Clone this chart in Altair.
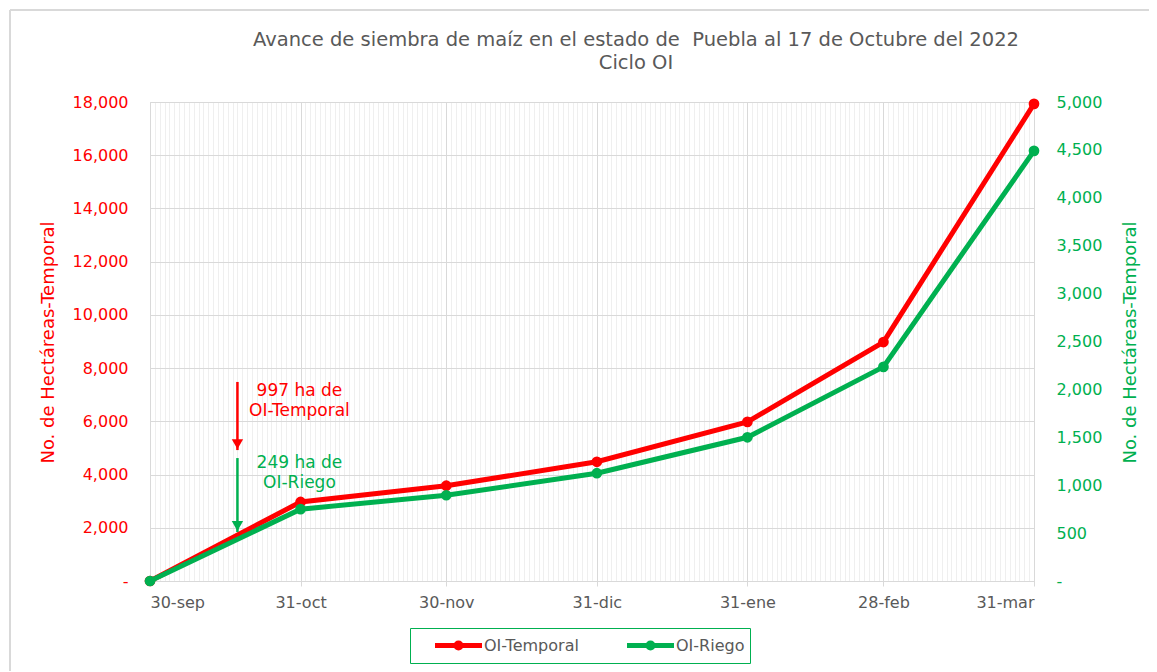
import altair as alt
import pandas as pd

# ---- data ----
dates = ["2022-09-30", "2022-10-31", "2022-11-30", "2022-12-31",
         "2023-01-31", "2023-02-28", "2023-03-31"]
date_labels = ["30-sep", "31-oct", "30-nov", "31-dic", "31-ene", "28-feb", "31-mar"]
temporal = [0, 2970, 3580, 4480, 5980, 8980, 17930]
riego = [0, 750, 895, 1125, 1500, 2235, 4490]
series_names = ["OI-Temporal", "OI-Riego"]
series_colors = ["#FF0000", "#00B050"]

# annotations (values on the left axis)
arrow_date = "2022-10-18"
arrow_top = [7480, 4620]
arrow_tip = [4920, 1840]
note_top = [7450, 4740]
notes = [["997 ha de", "OI-Temporal"], ["249 ha de", "OI-Riego"]]

title_lines = ["Avance de siembra de maíz en el estado de \u00a0Puebla al 17 de Octubre del 2022",
               "Ciclo OI"]
left_title = "No. de Hectáreas-Temporal"
right_title = "No. de Hectáreas-Temporal"
left_ticks = [0, 2000, 4000, 6000, 8000, 10000, 12000, 14000, 16000, 18000]
right_ticks = [0, 500, 1000, 1500, 2000, 2500, 3000, 3500, 4000, 4500, 5000]

# ---- tables ----
start = pd.Timestamp(dates[0])
days = [(pd.Timestamp(d) - start).days for d in dates]
end_day = days[-1]
arrow_day = (pd.Timestamp(arrow_date) - start).days

df_t = pd.DataFrame({"day": days, "fecha": date_labels, "value": temporal, "series": series_names[0]})
df_r = pd.DataFrame({"day": days, "fecha": date_labels, "value": riego, "series": series_names[1]})
ann = pd.DataFrame({"day": [arrow_day, arrow_day], "top": arrow_top, "tip": arrow_tip,
                    "note_top": note_top, "note": notes, "col": series_colors})

FONT = "DejaVu Sans"
GRID = "#D9D9D9"
TXT = "#595959"

xs = alt.Scale(domain=[0, end_day], nice=False, zero=False)
yl = alt.Scale(domain=[0, 18000], nice=False)
yr = alt.Scale(domain=[0, 5000], nice=False)

minor_vals = [d for d in range(end_day + 1) if d not in days]
minor_axis = alt.Axis(values=minor_vals, orient="bottom", grid=True, gridColor="#EFEFEF", gridWidth=1,
                      labels=False, ticks=False, domain=False, title=None)
label_expr = "[" + ",".join("'%s'" % s for s in date_labels) + "][indexof([" + \
    ",".join(str(d) for d in days) + "], datum.value)]"
major_axis = alt.Axis(values=days, orient="bottom", labelExpr=label_expr, grid=True, gridColor=GRID,
                      domain=True, domainColor=GRID, ticks=True, tickColor=GRID, tickSize=5,
                      labelFontSize=16, labelColor=TXT, labelFont=FONT, labelPadding=8,
                      title=None)

left_axis = alt.Axis(values=left_ticks, labelExpr="datum.value == 0 ? '-' : format(datum.value, ',')",
                     labelColor="#FF0000", labelFontSize=16, labelFont=FONT, domain=False, ticks=False,
                     tickSize=0, labelPadding=22, grid=True, gridColor=GRID, title=left_title,
                     titleColor="#FF0000", titleFontSize=18, titleFont=FONT, titleFontWeight="normal",
                     titleX=-102, titleY=240, titleAngle=270, titleAlign="center", titleBaseline="middle")
right_axis = alt.Axis(values=right_ticks, orient="right",
                      labelExpr="datum.value == 0 ? '-' : format(datum.value, ',')",
                      labelColor="#00B050", labelFontSize=16, labelFont=FONT, domain=False, ticks=False,
                      tickSize=0, labelPadding=22, grid=False, title=right_title,
                      titleColor="#00B050", titleFontSize=18, titleFont=FONT, titleFontWeight="normal",
                      titleX=96, titleY=240, titleAngle=270, titleAlign="center", titleBaseline="middle")

legend_path = "M-2.35,0L2.35,0M-0.25,0A0.25,0.25,0,1,1,0.25,0A0.25,0.25,0,1,1,-0.25,0"
legend = alt.Legend(orient="none", legendX=260, legendY=526, direction="horizontal", title=None,
                    symbolType=legend_path, symbolSize=400, symbolStrokeWidth=5, symbolOffset=31,
                    labelFontSize=16, labelColor=TXT, labelFont=FONT, strokeColor="#00B050",
                    padding=5, columnPadding=28, labelOffset=13, gridAlign="all")
color_enc = alt.Color("series:N", scale=alt.Scale(domain=series_names, range=series_colors),
                      legend=legend)

red = alt.Chart(df_t).mark_line(strokeWidth=5, point=alt.OverlayMarkDef(filled=True, size=115, opacity=1)).encode(
    x=alt.X("day:Q", scale=xs, axis=minor_axis),
    y=alt.Y("value:Q", scale=yl, axis=left_axis),
    color=color_enc,
)
green = alt.Chart(df_r).mark_line(strokeWidth=5, point=alt.OverlayMarkDef(filled=True, size=115, opacity=1)).encode(
    x=alt.X("day:Q", scale=xs, axis=major_axis),
    y=alt.Y("value:Q", scale=yr, axis=right_axis),
    color=color_enc,
)

shafts = alt.Chart(ann).mark_rule(strokeWidth=2.5).encode(
    x=alt.X("day:Q", scale=xs, axis=None),
    y=alt.Y("top:Q", scale=yl, axis=None),
    y2="tip:Q",
    color=alt.Color("col:N", scale=None),
)
heads = alt.Chart(ann).mark_point(shape="triangle-down", filled=True, size=130, opacity=1, yOffset=-6).encode(
    x=alt.X("day:Q", scale=xs, axis=None),
    y=alt.Y("tip:Q", scale=yl, axis=None),
    color=alt.Color("col:N", scale=None),
)
texts = alt.Chart(ann).mark_text(font=FONT, fontSize=17, align="center", baseline="top",
                                 dx=62, lineHeight=20).encode(
    x=alt.X("day:Q", scale=xs, axis=None),
    y=alt.Y("note_top:Q", scale=yl, axis=None),
    text="note",
    color=alt.Color("col:N", scale=None),
)

frame_data = alt.Data(values=[{"k": 1}])
frame_top = alt.Chart(frame_data).mark_rule(color="#D9D9D9", strokeWidth=2).encode(
    x=alt.value(-140), x2=alt.value(1000), y=alt.value(-92))
frame_left = alt.Chart(frame_data).mark_rule(color="#D9D9D9", strokeWidth=2).encode(
    x=alt.value(-140), y=alt.value(-92), y2=alt.value(580))
title_mark = alt.Chart(frame_data).mark_text(font=FONT, fontSize=19.5, color=TXT, align="center",
                                             baseline="top", lineHeight=23).encode(
    x=alt.value(486), y=alt.value(-71), text=alt.value(title_lines))

chart = alt.layer(frame_top, frame_left, red, green, shafts, heads, texts, title_mark).resolve_scale(
    y="independent"
).resolve_axis(
    x="independent", y="independent"
).properties(
    width=884, height=479,
    autosize=alt.AutoSizeParams(type="none"),
    padding={"left": 142, "top": 94, "right": 115, "bottom": 90},
).configure_view(stroke=GRID, strokeWidth=1)

chart.save("out.html", embed_options={"renderer": "svg", "actions": False})
